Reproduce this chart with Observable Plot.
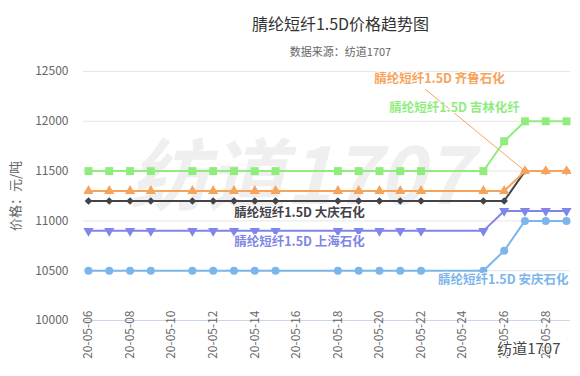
<!DOCTYPE html>
<html>
<head>
<meta charset="utf-8">
<script src="https://cdn.jsdelivr.net/npm/d3@7"></script>
<script src="https://cdn.jsdelivr.net/npm/@observablehq/plot@0.6"></script>
<style>
  html, body { margin: 0; padding: 0; background: #fff; }
  #chart { width: 580px; height: 376px; }
</style>
</head>
<body>
<div id="chart"></div>
<script>
// ---- data ----
const dates = ["2020-05-06","2020-05-07","2020-05-08","2020-05-09","2020-05-11","2020-05-12","2020-05-13","2020-05-14","2020-05-15","2020-05-18","2020-05-19","2020-05-20","2020-05-21","2020-05-22","2020-05-25","2020-05-26","2020-05-27","2020-05-28","2020-05-29"];
const anqing   = [10500,10500,10500,10500,10500,10500,10500,10500,10500,10500,10500,10500,10500,10500,10500,10700,11000,11000,11000];
const daqing   = [11200,11200,11200,11200,11200,11200,11200,11200,11200,11200,11200,11200,11200,11200,11200,11200,11500,11500,11500];
const jilin    = [11500,11500,11500,11500,11500,11500,11500,11500,11500,11500,11500,11500,11500,11500,11500,11800,12000,12000,12000];
const qilu     = [11300,11300,11300,11300,11300,11300,11300,11300,11300,11300,11300,11300,11300,11300,11300,11300,11500,11500,11500];
const shanghai = [10900,10900,10900,10900,10900,10900,10900,10900,10900,10900,10900,10900,10900,10900,10900,11100,11100,11100,11100];
const seriesNames = ["腈纶短纤1.5D 安庆石化","腈纶短纤1.5D 大庆石化","腈纶短纤1.5D 吉林化纤","腈纶短纤1.5D 齐鲁石化","腈纶短纤1.5D 上海石化"];
const seriesValues = [anqing, daqing, jilin, qilu, shanghai];
const yTicks = [10000, 10500, 11000, 11500, 12000, 12500];
const xTickDates = ["2020-05-06","2020-05-08","2020-05-10","2020-05-12","2020-05-14","2020-05-16","2020-05-18","2020-05-20","2020-05-22","2020-05-24","2020-05-26","2020-05-28"];
const xTickLabels = ["20-05-06","20-05-08","20-05-10","20-05-12","20-05-14","20-05-16","20-05-18","20-05-20","20-05-22","20-05-24","20-05-26","20-05-28"];
// annotation anchors (data space)
const labelDates  = ["2020-05-25T22:50Z","2020-05-16T03:40Z","2020-05-23T14:40Z","2020-05-22T21:20Z","2020-05-16T03:40Z"];
const labelValues = [10402, 11084, 12129, 12420, 10793];
const leaderDates  = ["2020-05-22T05:15Z","2020-05-27T00:00Z"];
const leaderValues = [12320, 11500];
const title = "腈纶短纤1.5D价格趋势图";
const subtitle = "数据来源：纺道1707";
const yTitle = "价格：元/吨";
const watermark = "纺道1707";

// ---- styles ----
const colors  = ["#7cb5ec","#434348","#90ed7d","#f7a35c","#8085e9"];
const symbols = ["circle","diamond2","square","triangle","triangle"];
const radii   = [4, 3.4, 4.5, 3.8, 3.8];
const rotates = [0, 0, 0, 0, 180];
const font = "'Noto Sans CJK SC', 'Noto Sans', sans-serif";

const parse = s => new Date(s.length === 10 ? s + "T00:00Z" : s);
const seriesRows = seriesValues.map((vals, i) => vals.map((v, j) => ({date: parse(dates[j]), value: v, s: i})));
const labelRows = seriesNames.map((n, i) => ({name: n, date: parse(labelDates[i]), value: labelValues[i], s: i}));
const leaderRows = leaderDates.map((d, i) => ({date: parse(d), value: leaderValues[i]}));
const xTickRows = xTickDates.map((d, i) => ({date: parse(d), label: xTickLabels[i]}));

const marks = [
  Plot.text([watermark], {frameAnchor: "middle", dx: -27, dy: -17, text: d => d, fontSize: 78, fontWeight: "bold", fontStyle: "italic", fill: "#efefef", fontFamily: font}),
  Plot.gridY(yTicks.slice(1), {stroke: "#e6e6e6", strokeOpacity: 1}),
  Plot.ruleY([10000], {stroke: "#ccd6eb"}),
  Plot.axisY({ticks: yTicks, tickSize: 0, tickPadding: 15, fontSize: 12, fill: "#666", label: null, tickFormat: d => String(d)}),
  Plot.text(xTickRows, {x: "date", frameAnchor: "bottom", dy: -10, text: "label", rotate: -90, textAnchor: "end", lineAnchor: "middle", fontSize: 12, fill: "#666"}),
  Plot.text([yTitle], {frameAnchor: "left", dx: -68, text: d => d, rotate: -90, textAnchor: "middle", fontSize: 13, fill: "#666"}),
  Plot.text([title], {frameAnchor: "top", dx: 13.5, dy: -53, text: d => d, fontSize: 16, fill: "#333"}),
  Plot.text([subtitle], {frameAnchor: "top", dx: 13.5, dy: -23, text: d => d, fontSize: 11, fill: "#666"}),
  Plot.line(leaderRows, {x: "date", y: "value", stroke: colors[3], strokeWidth: 1})
];
seriesRows.forEach((rows, i) => {
  marks.push(Plot.line(rows, {x: "date", y: "value", stroke: colors[i], strokeWidth: 2}));
  marks.push(Plot.dot(rows, {x: "date", y: "value", fill: colors[i], stroke: "none", symbol: symbols[i], r: radii[i], rotate: rotates[i]}));
});
marks.push(Plot.text(labelRows, {x: "date", y: "value", text: "name", fill: d => colors[d.s], fontSize: 12.5, fontWeight: "bold", textAnchor: "middle", stroke: "white", strokeWidth: 2, paintOrder: "stroke"}));
marks.push(Plot.text([watermark], {frameAnchor: "bottom-right", dx: -10, dy: 33, text: d => d, fontSize: 15, fill: "#444", textAnchor: "end", stroke: "white", strokeWidth: 2, paintOrder: "stroke"}));

const chart = Plot.plot({
  width: 580,
  height: 376,
  marginTop: 71,
  marginBottom: 56,
  marginLeft: 83,
  marginRight: 10,
  style: {fontFamily: font, background: "#fff", overflow: "visible"},
  x: {type: "utc", domain: [parse("2020-05-05T18:15Z"), parse("2020-05-29T04:35Z")], axis: null},
  y: {domain: [10000, 12500], axis: null},
  color: {type: "identity"},
  marks
});
document.getElementById("chart").appendChild(chart);
</script>
</body>
</html>
